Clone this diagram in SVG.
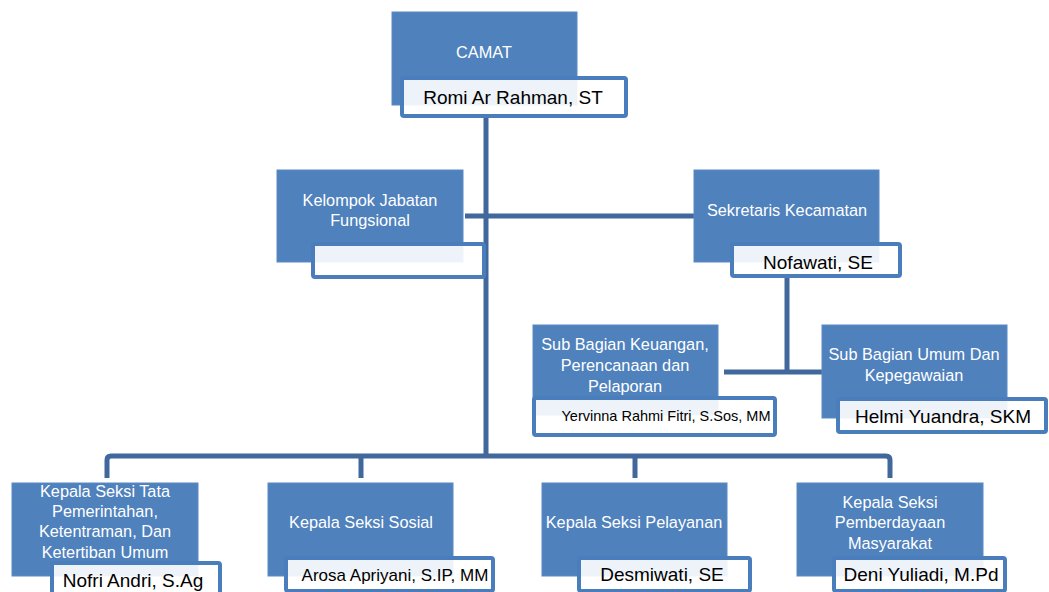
<svg xmlns="http://www.w3.org/2000/svg" width="1049" height="592" viewBox="0 0 1049 592">
<style>
.box{fill:#4f81bd;stroke:#5a8ac4;stroke-width:1}
.lbl{fill:#ffffff;fill-opacity:0.9;stroke:#4a7dbb;stroke-width:4}
.t{font-family:"Liberation Sans",Arial,sans-serif;font-size:16.3px;fill:#ffffff;text-anchor:middle}
.n{font-family:"Liberation Sans",Arial,sans-serif;font-size:19px;fill:#000000;text-anchor:middle}
.c{fill:none;stroke:#41689c;stroke-width:5;stroke-linejoin:round}
</style>
<rect width="1049" height="592" fill="#ffffff"/>
<g id="connectors">
<path class="c" d="M486,117 V456"/>
<path class="c" d="M465,216 H694"/>
<path class="c" d="M787,277 V372"/>
<path class="c" d="M724,372 H822"/>
<path class="c" d="M107,478 V460 Q107,456 111,456 H886 Q890,456 890,460 V478"/>
<path class="c" d="M361,456 V478"/>
<path class="c" d="M635,456 V478"/>
</g>
<g id="camat">
<rect class="box" x="392" y="12" width="185" height="93"/>
<text class="t" x="484" y="58">CAMAT</text>
<rect class="lbl" x="402" y="78" width="224" height="38" rx="2"/>
<text class="n" x="513" y="104">Romi Ar Rahman, ST</text>
</g>
<g id="kelompok">
<rect class="box" x="277" y="170" width="186" height="92"/>
<text class="t" x="370" y="206">Kelompok Jabatan</text>
<text class="t" x="370" y="226">Fungsional</text>
<rect class="lbl" x="313" y="244" width="171" height="33" rx="2"/>
</g>
<g id="sekretaris">
<rect class="box" x="694" y="170" width="185" height="92"/>
<text class="t" x="787" y="216">Sekretaris Kecamatan</text>
<rect class="lbl" x="732" y="244" width="168" height="32" rx="2"/>
<text class="n" x="818" y="269">Nofawati, SE</text>
</g>
<g id="subkeuangan">
<rect class="box" x="533" y="325" width="185" height="90"/>
<text class="t" x="625" y="350">Sub Bagian Keuangan,</text>
<text class="t" x="625" y="371">Perencanaan dan</text>
<text class="t" x="625" y="392">Pelaporan</text>
<rect class="lbl" x="534" y="398" width="241" height="37" rx="2"/>
<text class="n" x="666" y="421" style="font-size:14.5px">Yervinna Rahmi Fitri, S.Sos, MM</text>
</g>
<g id="subumum">
<rect class="box" x="822" y="325" width="185" height="93"/>
<text class="t" x="914" y="360">Sub Bagian Umum Dan</text>
<text class="t" x="914" y="381">Kepegawaian</text>
<rect class="lbl" x="838" y="399" width="208" height="33" rx="2"/>
<text class="n" x="943" y="423">Helmi Yuandra, SKM</text>
</g>
<g id="seksi-pemerintahan">
<rect class="box" x="12" y="483" width="186" height="93"/>
<text class="t" x="105" y="497">Kepala Seksi Tata</text>
<text class="t" x="105" y="517">Pemerintahan,</text>
<text class="t" x="105" y="537">Ketentraman, Dan</text>
<text class="t" x="105" y="558">Ketertiban Umum</text>
<rect class="lbl" x="52" y="563" width="168" height="34" rx="2"/>
<text class="n" x="133" y="587">Nofri Andri, S.Ag</text>
</g>
<g id="seksi-sosial">
<rect class="box" x="268" y="483" width="185" height="93"/>
<text class="t" x="361" y="528">Kepala Seksi Sosial</text>
<rect class="lbl" x="286" y="558" width="207" height="33" rx="2"/>
<text class="n" x="395" y="581" style="font-size:17px">Arosa Apriyani, S.IP, MM</text>
</g>
<g id="seksi-pelayanan">
<rect class="box" x="542" y="483" width="185" height="93"/>
<text class="t" x="634" y="528">Kepala Seksi Pelayanan</text>
<rect class="lbl" x="579" y="558" width="171" height="33" rx="2"/>
<text class="n" x="662" y="581">Desmiwati, SE</text>
</g>
<g id="seksi-pemberdayaan">
<rect class="box" x="797" y="483" width="186" height="93"/>
<text class="t" x="890" y="508">Kepala Seksi</text>
<text class="t" x="890" y="528">Pemberdayaan</text>
<text class="t" x="890" y="549">Masyarakat</text>
<rect class="lbl" x="834" y="558" width="171" height="33" rx="2"/>
<text class="n" x="921" y="581">Deni Yuliadi, M.Pd</text>
</g>
</svg>
